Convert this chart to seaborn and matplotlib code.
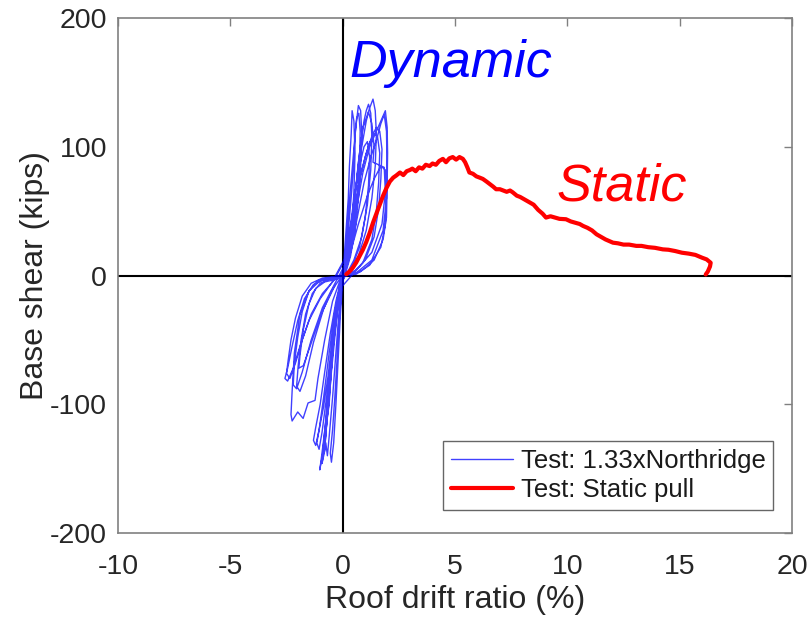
import matplotlib
matplotlib.use("Agg")
import matplotlib.pyplot as plt
import seaborn as sns
import numpy as np
import pandas as pd

# ---- Data ----
# Dynamic test hysteresis: one continuous trace, one line per half-cycle
dyn_x = [0.05, 0.15, 0.25, 0.3, 0.38, 0.42, 0.5, 0.55, 0.5, 0.4, 0.25, 0.1,
         -0.05, -0.15, -0.25, -0.35, -0.45, -0.55, -0.5, -0.4, -0.3, -0.2, -0.1, 0,
         0.1, 0.25, 0.4, 0.5, 0.55, 0.65, 0.7, 0.8, 0.85, 0.8, 0.7, 0.55, 0.35, 0.15,
         -0.1, -0.25, -0.4, -0.55, -0.7, -0.85, -0.95, -1.02, -0.9, -0.78, -0.65, -0.5, -0.3, -0.1,
         0.2, 0.4, 0.6, 0.75, 0.9, 1.05, 1.2, 1.35, 1.45, 1.5, 1.45, 1.3, 1.05, 0.7, 0.3,
         -0.3, -0.8, -1.3, -1.7, -2.0, -2.25, -2.45, -2.57, -2.45, -2.2, -1.9, -1.5, -1.0, -0.5,
         0.15, 0.35, 0.55, 0.75, 0.95, 1.1, 1.2, 1.15, 1.0, 0.75, 0.4,
         -0.1, -0.3, -0.55, -0.8, -1.0, -1.2, -1.3, -1.2, -1.05, -0.85, -0.6, -0.35, -0.1,
         0.3, 0.6, 0.9, 1.2, 1.5, 1.75, 1.9, 1.98, 2.0, 1.98, 1.95, 1.8, 1.4, 0.8,
         -0.4, -1.0, -1.5, -1.9, -2.15, -2.25, -2.3, -2.25, -2.0, -1.76, -1.54, -1.23, -1.1, -0.8, -0.45, -0.1,
         0.3, 0.55, 0.8, 1.05, 1.3, 1.5, 1.65, 1.75, 1.7, 1.6, 1.4, 1.0, 0.5,
         -0.1, -0.3, -0.45, -0.55, -0.6, -0.7, -0.75, -0.82, -0.75, -0.68, -0.6, -0.45, -0.3, -0.15, 0,
         0.25, 0.5, 0.7, 0.9, 1.05, 1.15, 1.3, 1.4, 1.35, 1.6, 1.85, 1.9, 1.75, 1.3, 0.6,
         -0.3, -0.7, -1.1, -1.5, -1.8, -2.0, -2.15, -2.2, -2.05, -1.8, -1.4, -0.9, -0.4,
         0.3, 0.7, 1.1, 1.4, 1.7, 1.9, 1.95, 1.8, 1.3, 0.6,
         -0.3, -0.8, -1.2, -1.5, -1.75, -1.9, -1.95, -1.75, -1.45, -1.0, -0.5, -0.1,
         0.15, 0.35, 0.55, 0.7, 0.85, 0.95, 1.05, 1.15, 1.25, 1.3, 1.25, 1.1, 0.85, 0.5, 0.2,
         -0.1, -0.2, -0.35, -0.5, -0.62, -0.75, -0.85, -0.92, -0.82, -0.7, -0.55, -0.4, -0.22, -0.05,
         0.35, 0.65, 0.95, 1.25, 1.5, 1.7, 1.85, 1.95, 1.97, 1.95, 1.9, 1.7, 1.2, 0.6,
         -0.4, -0.9, -1.4, -1.8, -2.1, -2.3, -2.42, -2.5, -2.35, -2.1, -1.8, -1.4, -0.9, -0.4,
         0.1, 0.2, 0.32, 0.45, 0.55, 0.62, 0.72, 0.78, 0.75, 0.65, 0.5, 0.3, 0.12, 0.05,
         -0.1, -0.25, -0.45, -0.65, -0.85, -1.05, -1.15, -1.05, -0.92, -0.72, -0.5, -0.28, -0.08,
         0.25, 0.5, 0.75, 1.0, 1.2, 1.4, 1.55, 1.65, 1.6, 1.5, 1.3, 0.9, 0.45,
         -0.3, -0.6, -1.0, -1.35, -1.65, -1.85, -1.98, -2.05, -1.9, -1.65, -1.3, -0.85, -0.35]
dyn_y = [10, 35, 60, 85, 110, 128, 120, 95, 65, 35, 12, 2,
         -10, -35, -65, -95, -120, -138, -145, -130, -100, -65, -30, -5,
         10, 35, 65, 90, 110, 125, 132, 128, 110, 85, 60, 35, 15, 3,
         -8, -25, -50, -78, -105, -128, -142, -151, -140, -118, -90, -60, -30, -8,
         15, 40, 70, 95, 115, 122, 130, 137, 128, 110, 85, 60, 35, 15, 3,
         -2, -3, -7, -18, -35, -55, -72, -80, -82, -72, -55, -35, -18, -6,
         15, 40, 65, 85, 100, 104, 92, 70, 45, 22, 6,
         -5, -20, -45, -75, -100, -118, -128, -132, -120, -95, -60, -28, -6,
         20, 50, 80, 100, 112, 122, 128, 115, 95, 70, 45, 28, 12, 3,
         -2, -4, -12, -30, -60, -90, -108, -113, -106, -111, -99, -97, -80, -50, -20, -3,
         22, 50, 78, 95, 108, 115, 112, 98, 75, 52, 30, 12, 2,
         -10, -30, -60, -85, -100, -112, -125, -138, -130, -140, -125, -95, -60, -25, -3,
         25, 55, 85, 105, 120, 127, 118, 100, 88, 86, 84, 65, 40, 18, 4,
         -1, -2, -4, -12, -28, -48, -68, -85, -88, -75, -50, -25, -8,
         15, 40, 62, 75, 85, 82, 60, 35, 12, 2,
         -3, -5, -10, -22, -42, -62, -72, -70, -55, -32, -12, -2,
         12, 35, 62, 88, 108, 120, 128, 133, 126, 108, 82, 55, 30, 12, 2,
         -6, -22, -48, -75, -100, -122, -138, -146, -138, -112, -82, -52, -25, -5,
         18, 45, 72, 92, 105, 118, 125, 112, 90, 62, 40, 22, 8, 1,
         -1, -2, -6, -16, -33, -50, -65, -76, -80, -68, -50, -30, -14, -4,
         12, 35, 62, 88, 108, 122, 126, 112, 88, 62, 35, 14, 3, 1,
         -6, -22, -48, -78, -102, -120, -130, -135, -122, -95, -62, -30, -6,
         20, 48, 75, 92, 103, 110, 108, 95, 72, 50, 28, 10, 2,
         -1, -3, -6, -14, -30, -50, -70, -86, -90, -78, -52, -26, -8]

# Static pull test
static_x = [0.16, 0.3, 0.45, 0.6, 0.75, 0.9, 1.05, 1.2, 1.35, 1.5,
            1.65, 1.8, 1.95, 2.1, 2.25, 2.38, 2.55, 2.7, 2.85, 3.0,
            3.1, 3.25, 3.4, 3.55, 3.7, 3.87, 4.0, 4.15, 4.3, 4.46,
            4.6, 4.75, 4.9, 5.05, 5.2, 5.35, 5.45, 5.55, 5.64, 5.8,
            5.95, 6.1, 6.24, 6.4, 6.55, 6.7, 6.83, 7.0, 7.15, 7.3,
            7.45, 7.57, 7.75, 7.9, 8.1, 8.3, 8.5, 8.7, 8.9, 9.05,
            9.25, 9.45, 9.65, 9.94, 10.15, 10.35, 10.55, 10.7, 10.9, 11.1,
            11.3, 11.5, 11.7, 12.03, 12.25, 12.5, 12.75, 13.07, 13.3, 13.6,
            13.9, 14.25, 14.5, 14.8, 15.1, 15.4, 15.7, 16.0, 16.2, 16.38,
            16.35, 16.25, 16.16]
static_y = [1, 3, 6, 10, 15, 20, 26, 33, 41, 48,
            55, 62, 68, 73, 76, 77.6, 80, 78, 81, 82,
            83, 81, 84, 83, 86, 85, 87, 86, 89, 90.6,
            88, 91, 92, 90, 92, 90.6, 88, 84, 80, 79,
            77, 76, 75, 73, 71, 69, 67, 67, 66, 65,
            66, 64.6, 62, 61, 59, 57, 55, 51, 48, 45,
            46, 45, 44, 43.7, 42, 41, 40, 38.5, 37, 35,
            32, 30, 28, 25.5, 25, 24, 24, 23, 23, 22,
            21.5, 20.3, 20, 19, 17.7, 17, 16, 13.8, 12.5, 9.9,
            7, 3, 0.8]

x_ticks = [-10, -5, 0, 5, 10, 15, 20]
y_ticks = [-200, -100, 0, 100, 200]
series_labels = ["Test: 1.33xNorthridge", "Test: Static pull"]

dyn_df = pd.DataFrame({"x": dyn_x, "y": dyn_y})
sta_df = pd.DataFrame({"x": static_x, "y": static_y})

sns.set_style("white")
plt.rcParams["font.family"] = ["Liberation Sans", "DejaVu Sans"]
plt.rcParams["axes.unicode_minus"] = False

fig = plt.figure(figsize=(8.09, 6.21), dpi=100)
ax = fig.add_axes([118 / 809, 1 - 533 / 621, 674 / 809, 515 / 621])

ax.axhline(0, color="black", lw=1.5, zorder=1)
ax.axvline(0, color="black", lw=1.5, zorder=1)

sns.lineplot(data=dyn_df, x="x", y="y", sort=False, estimator=None, ax=ax,
             color="#0000ff", lw=1.0, alpha=0.75, label=series_labels[0], zorder=2)
sns.lineplot(data=sta_df, x="x", y="y", sort=False, estimator=None, ax=ax,
             color="#ff0000", lw=3, label=series_labels[1], zorder=3)

ax.set_xlim(-10, 20)
ax.set_ylim(-200, 200)
ax.set_xticks(x_ticks)
ax.set_yticks(y_ticks)
ax.tick_params(direction="in", top=True, right=True, length=6, width=1,
               color="#808080", labelsize=20.5, labelcolor="#262626")
ax.tick_params(axis="x", pad=15)
ax.tick_params(axis="y", pad=8)
for s in ax.spines.values():
    s.set_color("#808080")
    s.set_linewidth(1.2)

ax.set_xlabel("Roof drift ratio (%)", fontsize=23, color="#262626", labelpad=4)
ax.set_ylabel("Base shear (kips)", fontsize=23, color="#262626", labelpad=0)

ax.text(0.3, 154, "Dynamic", color="#0000ff", fontsize=37.5, style="italic")
ax.text(9.5, 58, "Static", color="#ff0000", fontsize=37.5, style="italic")

leg = ax.legend(loc="lower right", bbox_to_anchor=(0.972, 0.045), borderaxespad=0,
                fontsize=18.5, frameon=True, fancybox=False, edgecolor="#404040",
                handlelength=2.4, handletextpad=0.3, borderpad=0.3, labelspacing=0.2)
leg.get_frame().set_linewidth(1.0)
for t in leg.get_texts():
    t.set_color("#1a1a1a")

fig.savefig("out.png", dpi=100)
